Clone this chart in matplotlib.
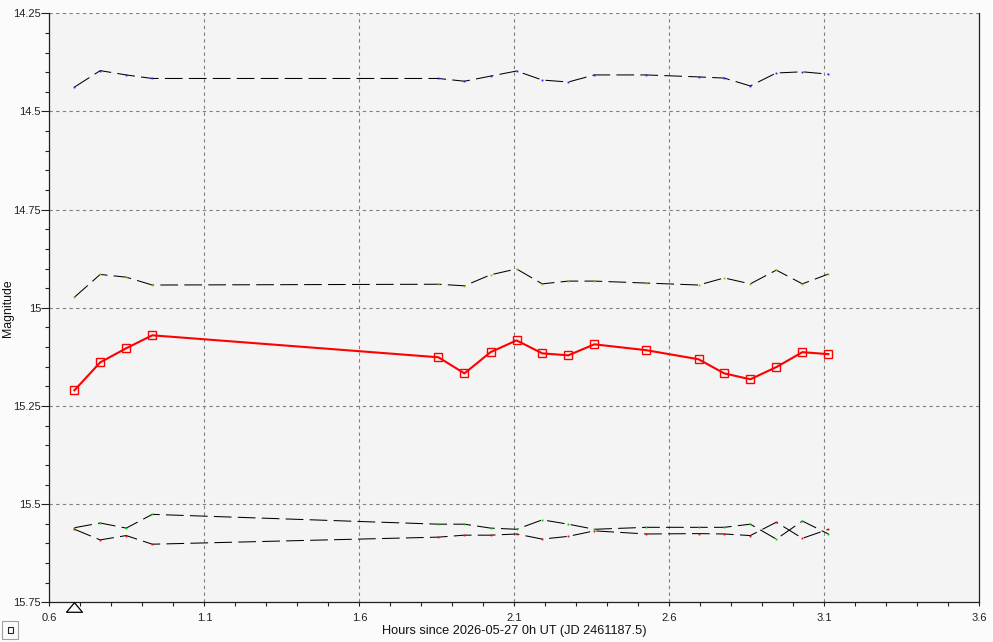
import matplotlib
matplotlib.use('Agg')
import matplotlib.pyplot as plt
import matplotlib.patches as mpatches
import matplotlib.transforms as mtransforms
from matplotlib.ticker import MultipleLocator, FixedLocator

# time of each observation (hours since 2026-05-27 0h UT)
hours = [0.681, 0.764, 0.848, 0.932, 1.855, 1.939, 2.023, 2.107, 2.190,
         2.274, 2.358, 2.526, 2.694, 2.777, 2.861, 2.945, 3.029, 3.113]

# variable star magnitudes (red line)
var_mag = [15.210, 15.139, 15.103, 15.070, 15.126, 15.167, 15.113, 15.083, 15.116,
           15.121, 15.093, 15.108, 15.131, 15.167, 15.182, 15.151, 15.113, 15.118]

# comparison stars (dashed)
comp1_mag = [14.438, 14.396, 14.407, 14.416, 14.416, 14.423, 14.410, 14.397, 14.420,
             14.425, 14.407, 14.407, 14.412, 14.415, 14.435, 14.402, 14.399, 14.405]
comp2_mag = [14.973, 14.915, 14.922, 14.942, 14.940, 14.944, 14.916, 14.901, 14.939,
             14.932, 14.932, 14.937, 14.942, 14.924, 14.939, 14.904, 14.939, 14.914]

# check star pair at the bottom
check_a = [15.560, 15.548, 15.561, 15.526, 15.551, 15.551, 15.561, 15.564, 15.540,
           15.551, 15.564, 15.559, 15.559, 15.559, 15.551, 15.589, 15.543, 15.576]
check_b = [15.564, 15.591, 15.580, 15.602, 15.584, 15.579, 15.579, 15.576, 15.589,
           15.582, 15.568, 15.576, 15.575, 15.576, 15.580, 15.546, 15.587, 15.564]

x_ticks = [0.6, 1.1, 1.6, 2.1, 2.6, 3.1, 3.6]
x_labels = ['0.6', '1.1', '1.6', '2.1', '2.6', '3.1', '3.6']
y_ticks = [14.25, 14.5, 14.75, 15.0, 15.25, 15.5, 15.75]
y_labels = ['14.25', '14.5', '14.75', '15', '15.25', '15.5', '15.75']

plt.rcParams['font.family'] = ['Liberation Sans', 'DejaVu Sans']

fig = plt.figure(figsize=(9.93, 6.42), dpi=100, facecolor='#fbfbfb')
ax = fig.add_axes([0.0497, 0.0618, 0.9366, 0.9175])
ax.set_facecolor('#f4f4f4')

dash = (0, (17, 6))
ax.plot(hours, comp1_mag, color='black', lw=0.75, linestyle=dash, zorder=3)
ax.plot(hours, comp2_mag, color='black', lw=0.75, linestyle=dash, zorder=3)
ax.plot(hours, check_a, color='black', lw=0.75, linestyle=dash, zorder=3)
ax.plot(hours, check_b, color='black', lw=0.75, linestyle=dash, zorder=3)

# tiny coloured dots on the vertices of the dashed lines
ax.plot(hours, comp1_mag, 's', color='#2020ff', ms=1.3, mew=0, zorder=4)
ax.plot(hours, comp2_mag, 's', color='#b0b000', ms=1.3, mew=0, zorder=4)
ax.plot(hours, check_a, 's', color='#00d000', ms=1.3, mew=0, zorder=4)
ax.plot(hours, check_b, 's', color='#ff0000', ms=1.3, mew=0, zorder=4)

# variable star
ax.plot(hours, var_mag, color='#ff0000', lw=1.5, marker='s', ms=5.2,
        mfc='none', mec='#ff0000', mew=1.0, zorder=5)

# axes limits, magnitude axis inverted
ax.set_xlim(0.6, 3.6)
ax.set_ylim(15.75, 14.25)

ax.xaxis.set_major_locator(FixedLocator(x_ticks))
ax.set_xticklabels(x_labels)
ax.xaxis.set_minor_locator(MultipleLocator(0.1))
ax.yaxis.set_major_locator(FixedLocator(y_ticks))
ax.set_yticklabels(y_labels)
ax.yaxis.set_minor_locator(MultipleLocator(0.05))

ax.tick_params(axis='x', which='major', length=3, width=0.8, pad=5,
               labelsize=8, colors='#222222')
ax.tick_params(axis='x', which='minor', length=3, width=0.8, color='#222222')
ax.tick_params(axis='y', which='major', length=6, width=0.8, pad=0,
               labelsize=8, colors='#222222')
ax.tick_params(axis='y', which='minor', length=3, width=0.8, color='#222222')

# grid
ax.grid(True, which='major', color='#808080', linestyle=(0, (3, 3)), linewidth=0.8)
ax.set_axisbelow(True)

for side in ['left', 'bottom', 'right']:
    ax.spines[side].set_color('#222222')
    ax.spines[side].set_linewidth(0.9)
ax.spines['top'].set_visible(False)

ax.set_xlabel('Hours since 2026-05-27 0h UT (JD 2461187.5)', fontsize=9.2,
              color='#111111', labelpad=1)
ax.set_ylabel('Magnitude', fontsize=8.8, color='#111111')
ax.yaxis.set_label_coords(-0.0385, 0.5)

# open triangle under the first observation
trans = mtransforms.blended_transform_factory(ax.transData, ax.transAxes)
tri = [(-1, -0.6), (1, -0.6), (0, 0.6), (-1, -0.6)]
ax.plot([hours[0]], [-0.008], marker=tri, ms=11.5, mfc='none', mec='black',
        mew=0.9, transform=trans, clip_on=False, zorder=6)

# small button in the bottom left corner
fig.add_artist(mpatches.Rectangle((2 / 993, 3 / 642), 16 / 993, 18 / 642,
                                  transform=fig.transFigure, fill=False,
                                  edgecolor='#a0a0a0', lw=0.8))
fig.add_artist(mpatches.Rectangle((7.5 / 993, 9 / 642), 5 / 993, 6 / 642,
                                  transform=fig.transFigure, fill=False,
                                  edgecolor='#222222', lw=0.8))

fig.savefig('out.png', dpi=100, facecolor=fig.get_facecolor())
